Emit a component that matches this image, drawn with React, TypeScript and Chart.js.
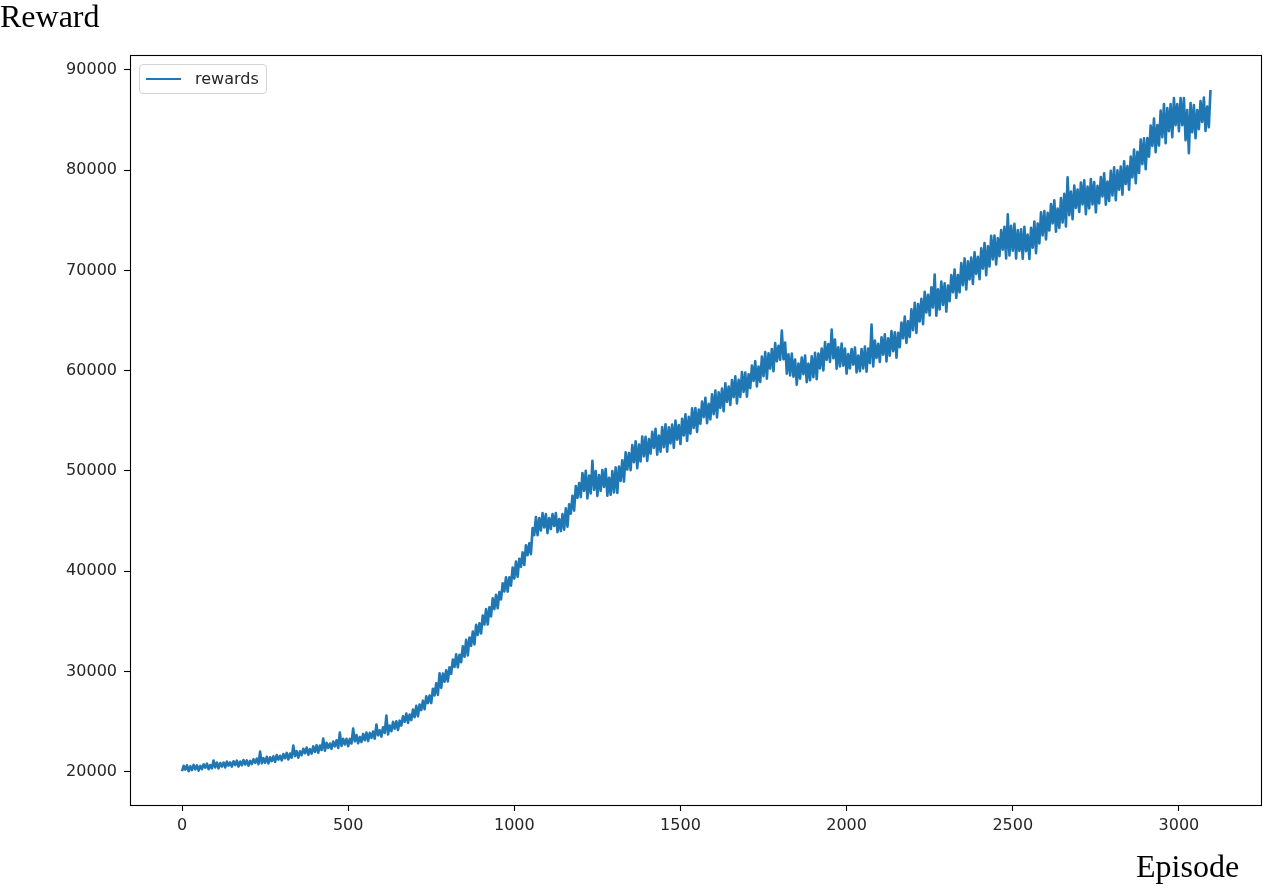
import React, { useEffect, useRef } from "react";
import { Chart, registerables } from "chart.js";

Chart.register(...registerables);

// Episode spacing between consecutive reward samples
const EPISODE_STEP = 5;

// Rewards (one value every 5 episodes, 0..3095)
const REWARDS: number[] = [
  20060, 20580, 20200, 20630, 20040, 20530, 20150, 20670, 20230, 20630,
  20100, 20570, 20260, 20730, 20390, 20800, 20250, 20660, 20320, 21100,
  20420, 20915, 20330, 20855, 20510, 20915, 20420, 21005, 20600, 20915,
  20510, 21035, 20660, 21095, 20510, 21005, 20630, 21155, 20720, 21125,
  20600, 21070, 20760, 21230, 20890, 21300, 20750, 22000, 20820, 21350,
  20890, 21480, 20810, 21435, 21045, 21530, 20965, 21660, 21200, 21580,
  21120, 21755, 21340, 21870, 21210, 21810, 21395, 22600, 21545, 22040,
  21400, 22040, 21640, 22280, 21840, 22400, 21680, 22240, 21800, 22520,
  21960, 22640, 21880, 22600, 22160, 23300, 22080, 22880, 22360, 22800,
  22280, 22995, 22520, 23120, 22360, 23900, 22560, 23280, 22720, 23280,
  22550, 23265, 22810, 24300, 23025, 23650, 22835, 23460, 22960, 23765,
  23130, 23900, 23050, 23865, 23375, 24010, 23295, 24700, 23620, 24120,
  23500, 24430, 23860, 25600, 23720, 24600, 24030, 24960, 24290, 25020,
  24150, 25085, 24590, 25525, 24975, 25800, 24865, 25690, 25140, 26185,
  25440, 26560, 25520, 26700, 26140, 27080, 26220, 27520, 26840, 27600,
  26840, 28270, 27600, 28820, 27660, 29800, 28350, 29780, 28970, 30120,
  29000, 30420, 29760, 31180, 30440, 31700, 30400, 31660, 30920, 32500,
  31460, 33150, 31600, 33380, 32550, 33970, 32690, 34650, 33640, 34790,
  33780, 35580, 34680, 36210, 34680, 36390, 35490, 37290, 36210, 37650,
  36300, 37910, 37180, 38790, 37970, 39400, 37950, 39380, 38560, 40350,
  39260, 40970, 39440, 41240, 40430, 41870, 40610, 42590, 41600, 42770,
  41700, 44300, 43600, 45400, 43600, 45300, 44050, 45800, 44350, 45700,
  43800, 45300, 44200, 45700, 44500, 45800, 43900, 45200, 44000, 45700,
  44140, 46270, 44440, 46680, 45730, 47530, 46030, 48490, 47320, 48790,
  47380, 49800, 48020, 50020, 47260, 49540, 47760, 51000, 48120, 49980,
  47500, 49580, 48020, 50100, 48400, 50200, 47520, 49320, 47620, 49980,
  47860, 50350, 47800, 50430, 49000, 51070, 48940, 51850, 50140, 51790,
  50080, 52580, 50880, 52960, 50280, 52640, 50940, 53440, 51460, 53400,
  51000, 53180, 51720, 53900, 52300, 54200, 51620, 53520, 51920, 54380,
  52360, 54660, 51920, 54360, 52740, 54620, 52300, 55020, 53120, 54580,
  52680, 55210, 53540, 55650, 53000, 55390, 53720, 56250, 54300, 56270,
  53900, 56120, 54700, 56920, 55360, 57300, 54760, 56700, 55140, 57640,
  55660, 58020, 55340, 57840, 56280, 58220, 55960, 58740, 56900, 58420,
  56580, 59070, 57360, 59430, 56740, 59090, 57380, 59870, 57880, 59810,
  57400, 59650, 58260, 60510, 58980, 60950, 58440, 60410, 58880, 61410,
  59460, 61850, 59200, 61730, 60200, 62170, 59940, 62750, 60940, 62490,
  61080, 64000, 61140, 62800, 59700, 61640, 59520, 61700, 59400, 61120,
  58600, 60720, 59200, 61320, 59660, 61500, 58860, 60700, 59040, 61440,
  59360, 61780, 59160, 61720, 60220, 62220, 60020, 62860, 61080, 62660,
  60880, 64100, 61240, 63100, 60200, 62340, 60420, 62700, 60500, 62220,
  59700, 61650, 60220, 62170, 60610, 62300, 59830, 61520, 59960, 62170,
  60220, 62400, 59900, 62210, 60750, 64600, 60430, 63000, 61280, 62680,
  60880, 63340, 61600, 63640, 60920, 63240, 61500, 63960, 61940, 63840,
  61300, 63770, 62340, 64810, 63230, 65400, 62770, 64940, 63360, 66130,
  64040, 66780, 63760, 66660, 64920, 67180, 64640, 67860, 65800, 67580,
  65520, 68310, 66300, 69600, 65480, 68110, 66100, 68890, 66560, 68710,
  65900, 68500, 66940, 69540, 67820, 70100, 67260, 69540, 67820, 70740,
  68540, 71200, 68100, 70920, 69100, 71280, 68660, 71800, 69660, 71360,
  69140, 72210, 70180, 72740, 69520, 72420, 70390, 73460, 71090, 73480,
  70600, 73220, 71420, 74040, 72070, 74350, 71190, 75600, 71500, 74460,
  71980, 74650, 71200, 74040, 71950, 74110, 71170, 74350, 71920, 73570,
  71140, 74260, 72280, 74890, 71720, 74670, 72690, 75810, 73490, 75930,
  73100, 75750, 73980, 76630, 74690, 77000, 73870, 76180, 74240, 77230,
  74780, 77640, 74380, 79300, 75510, 77860, 75110, 78480, 76240, 78080,
  75840, 78760, 76580, 78990, 75620, 78370, 76190, 79110, 76590, 78830,
  75800, 78450, 76680, 79330, 77390, 79700, 76570, 78880, 76940, 79930,
  77480, 80300, 77000, 79990, 78050, 80360, 77570, 80900, 78620, 80420,
  78060, 81370, 79280, 82050, 78700, 81830, 79740, 83050, 80600, 83190,
  80100, 83200, 81360, 84460, 82430, 85150, 81790, 84510, 82480, 85960,
  83300, 86600, 82700, 86200, 83900, 86600, 83300, 87200, 84500, 86600,
  83900, 87200, 84500, 87200, 83000, 86000, 81700, 86700, 83800, 86500,
  83200, 86000, 84100, 86900, 84820, 87250, 83920, 86350, 84280, 88000,
];

const SERIES_LABEL = "rewards";
const X_TICKS = [0, 500, 1000, 1500, 2000, 2500, 3000];
const Y_TICKS = [20000, 30000, 40000, 50000, 60000, 70000, 80000, 90000];
const X_TITLE = "Episode";
const Y_TITLE = "Reward";

const LINE_COLOR = "#1f77b4";
const TICK_FONT = "'DejaVu Sans'";

const framePlugin = {
  id: "frame",
  afterDraw(chart: any) {
    const { ctx, chartArea } = chart;
    ctx.save();
    ctx.strokeStyle = "#000";
    ctx.lineWidth = 1.1;
    ctx.strokeRect(
      Math.round(chartArea.left) + 0.5,
      Math.round(chartArea.top) + 0.5,
      Math.round(chartArea.right - chartArea.left) - 1,
      Math.round(chartArea.bottom - chartArea.top)
    );
    ctx.restore();
  },
};

export default function App() {
  const canvasRef = useRef<HTMLCanvasElement | null>(null);

  useEffect(() => {
    if (!canvasRef.current) return;
    const points = REWARDS.map((r, i) => ({ x: i * EPISODE_STEP, y: r }));
    const chart = new Chart(canvasRef.current, {
      type: "line",
      data: {
        datasets: [
          {
            label: SERIES_LABEL,
            data: points,
            borderColor: LINE_COLOR,
            borderWidth: 2.6,
            pointRadius: 0,
            tension: 0,
            borderJoinStyle: "round",
            fill: false,
          },
        ],
      },
      options: {
        animation: false,
        responsive: false,
        devicePixelRatio: 1,
        layout: { padding: { top: 55, right: 1, left: 0, bottom: 0 } },
        plugins: {
          legend: { display: false },
          tooltip: { enabled: false },
        },
        scales: {
          x: {
            type: "linear",
            min: -156.5,
            max: 3250,
            afterBuildTicks: (axis: any) => {
              axis.ticks = X_TICKS.map((v) => ({ value: v }));
            },
            afterFit: (scale: any) => {
              scale.height = 81;
            },
            border: { display: false },
            grid: {
              drawOnChartArea: false,
              drawTicks: true,
              tickLength: 6,
              tickColor: "#000",
              tickWidth: 1.1,
            },
            ticks: {
              autoSkip: false,
              maxRotation: 0,
              padding: 5,
              color: "#262626",
              font: { family: TICK_FONT, size: 16 },
              callback: (v: any) => String(v),
            },
          },
          y: {
            type: "linear",
            min: 16673,
            max: 91494,
            afterBuildTicks: (axis: any) => {
              axis.ticks = Y_TICKS.map((v) => ({ value: v }));
            },
            afterFit: (scale: any) => {
              scale.width = 130;
            },
            border: { display: false },
            grid: {
              drawOnChartArea: false,
              drawTicks: true,
              tickLength: 6,
              tickColor: "#000",
              tickWidth: 1.1,
            },
            ticks: {
              autoSkip: false,
              padding: 7,
              color: "#262626",
              font: { family: TICK_FONT, size: 16 },
              callback: (v: any) => String(v),
            },
          },
        },
      },
      plugins: [framePlugin],
    });
    return () => chart.destroy();
  }, []);

  return (
    <div style={{ position: "absolute", left: 0, top: 0, width: 1263, height: 886, background: "#fff" }}>
      <canvas ref={canvasRef} width={1263} height={886} style={{ width: 1263, height: 886, display: "block" }} />
      <div
        style={{
          position: "absolute",
          left: 0,
          top: 0,
          fontFamily: "'Liberation Serif', 'Times New Roman', serif",
          fontSize: 32,
          lineHeight: "32px",
          color: "#000",
          whiteSpace: "nowrap",
        }}
      >
        {Y_TITLE}
      </div>
      <div
        style={{
          position: "absolute",
          left: 1136,
          top: 850,
          fontFamily: "'Liberation Serif', 'Times New Roman', serif",
          fontSize: 32,
          lineHeight: "32px",
          color: "#000",
          whiteSpace: "nowrap",
        }}
      >
        {X_TITLE}
      </div>
      <div
        style={{
          position: "absolute",
          left: 139,
          top: 64,
          width: 126,
          height: 28,
          border: "1px solid #d4d4d4",
          borderRadius: 4,
          background: "rgba(255,255,255,0.8)",
          boxSizing: "content-box",
        }}
      >
        <div
          style={{
            position: "absolute",
            left: 6,
            top: 13,
            width: 35,
            height: 2.4,
            background: LINE_COLOR,
          }}
        />
        <div
          style={{
            position: "absolute",
            left: 55,
            top: 4,
            fontFamily: TICK_FONT,
            fontSize: 16,
            lineHeight: "20px",
            color: "#262626",
            whiteSpace: "nowrap",
          }}
        >
          {SERIES_LABEL}
        </div>
      </div>
    </div>
  );
}
